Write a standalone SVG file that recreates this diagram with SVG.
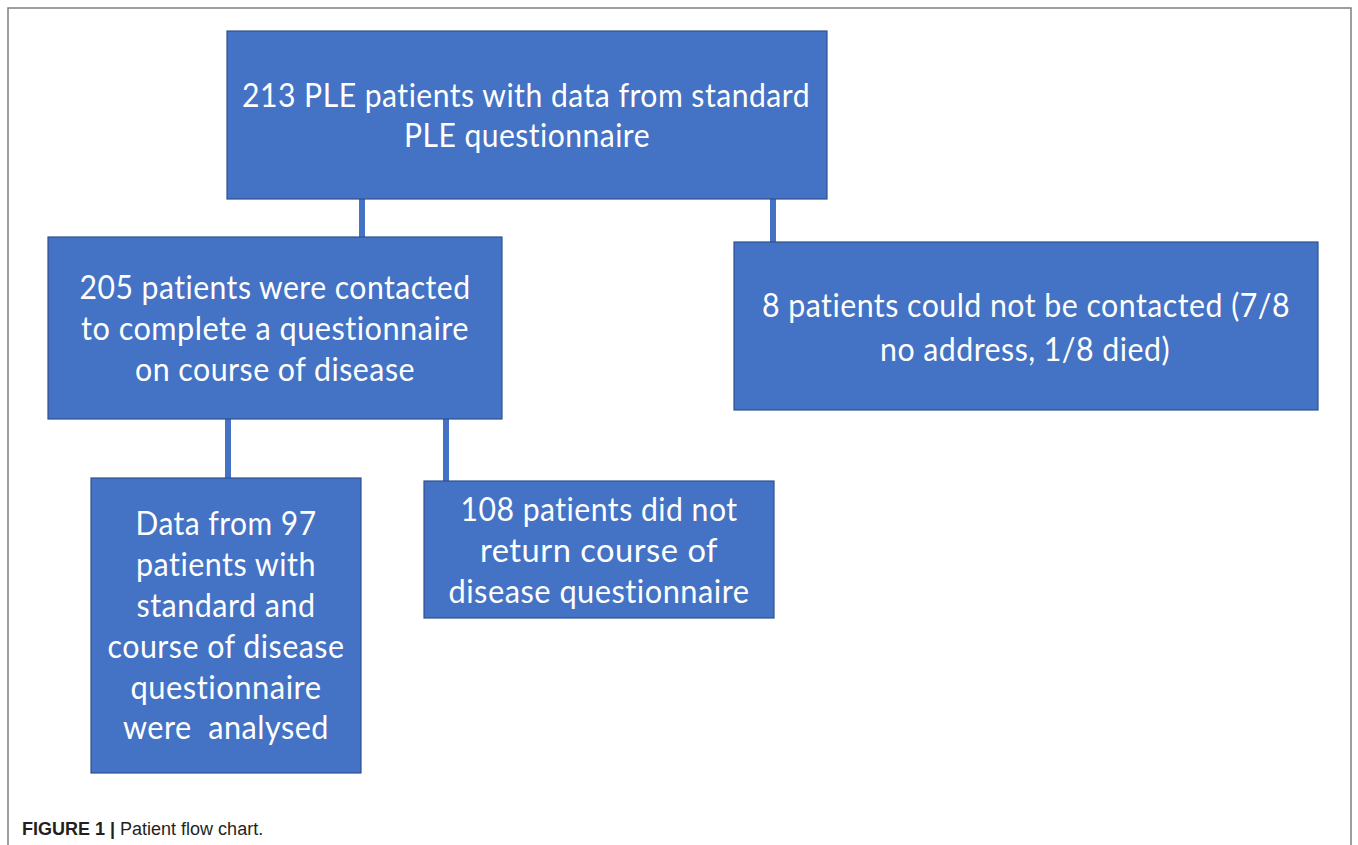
<svg xmlns="http://www.w3.org/2000/svg" width="1358" height="845" viewBox="0 0 1358 845">
<style>
.box{fill:#4472C4;stroke:#2F528F;stroke-width:1.2}
.t{font-family:Lato,"Open Sans",sans-serif;font-size:32px;fill:#FFFFFF;text-anchor:middle;font-variant-ligatures:none;font-feature-settings:"liga" 0,"clig" 0,"dlig" 0,"calt" 0,"hlig" 0;letter-spacing:0.5px}
.c{stroke:#4472C4;stroke-width:6;fill:none}
.cap{font-family:"Liberation Sans",Arial,sans-serif;font-size:18px;fill:#231F20}
</style>
<rect x="0" y="0" width="1358" height="845" fill="#FFFFFF"/>
<path d="M8,845 V8 H1351 V845" fill="none" stroke="#7f7f7f" stroke-width="1.5"/>
<g id="connectors">
<line class="c" x1="362" y1="199" x2="362" y2="237"/>
<line class="c" x1="773" y1="199" x2="773" y2="242"/>
<line class="c" x1="228" y1="419" x2="228" y2="478"/>
<line class="c" x1="446" y1="419" x2="446" y2="481"/>
</g>
<g id="n1">
<rect class="box" x="227" y="31" width="600" height="168"/>
<text class="t" x="526" y="107" textLength="568" lengthAdjust="spacingAndGlyphs">213 PLE patients with data from standard</text>
<text class="t" x="527" y="147" textLength="246" lengthAdjust="spacingAndGlyphs">PLE questionnaire</text>
</g>
<g id="n2">
<rect class="box" x="48" y="237" width="454" height="182"/>
<text class="t" x="275" y="299" textLength="391" lengthAdjust="spacingAndGlyphs">205 patients were contacted</text>
<text class="t" x="275" y="340" textLength="388" lengthAdjust="spacingAndGlyphs">to complete a questionnaire</text>
<text class="t" x="275" y="381" textLength="280" lengthAdjust="spacingAndGlyphs">on course of disease</text>
</g>
<g id="n3">
<rect class="box" x="734" y="242" width="584" height="168"/>
<text class="t" x="1026" y="317" textLength="528" lengthAdjust="spacingAndGlyphs">8 patients could not be contacted (7/8</text>
<text class="t" x="1025" y="361" textLength="290" lengthAdjust="spacingAndGlyphs">no address, 1/8 died)</text>
</g>
<g id="n4">
<rect class="box" x="91" y="478" width="270" height="295"/>
<text class="t" x="226" y="535" textLength="181" lengthAdjust="spacingAndGlyphs">Data from 97</text>
<text class="t" x="226" y="576" textLength="180" lengthAdjust="spacingAndGlyphs">patients with</text>
<text class="t" x="226" y="617" textLength="179" lengthAdjust="spacingAndGlyphs">standard and</text>
<text class="t" x="226" y="658" textLength="237" lengthAdjust="spacingAndGlyphs">course of disease</text>
<text class="t" x="226" y="699" textLength="191" lengthAdjust="spacingAndGlyphs">questionnaire</text>
<text class="t" x="226" y="739" textLength="206" lengthAdjust="spacingAndGlyphs" xml:space="preserve">were  analysed</text>
</g>
<g id="n5">
<rect class="box" x="424" y="481" width="350" height="137"/>
<text class="t" x="599" y="521" textLength="277" lengthAdjust="spacingAndGlyphs">108 patients did not</text>
<text class="t" x="599" y="562" textLength="238" lengthAdjust="spacingAndGlyphs">return course of</text>
<text class="t" x="599" y="603" textLength="301" lengthAdjust="spacingAndGlyphs">disease questionnaire</text>
</g>
<text class="cap" x="22" y="835"><tspan font-weight="bold">FIGURE 1 |</tspan> Patient flow chart.</text>
</svg>
